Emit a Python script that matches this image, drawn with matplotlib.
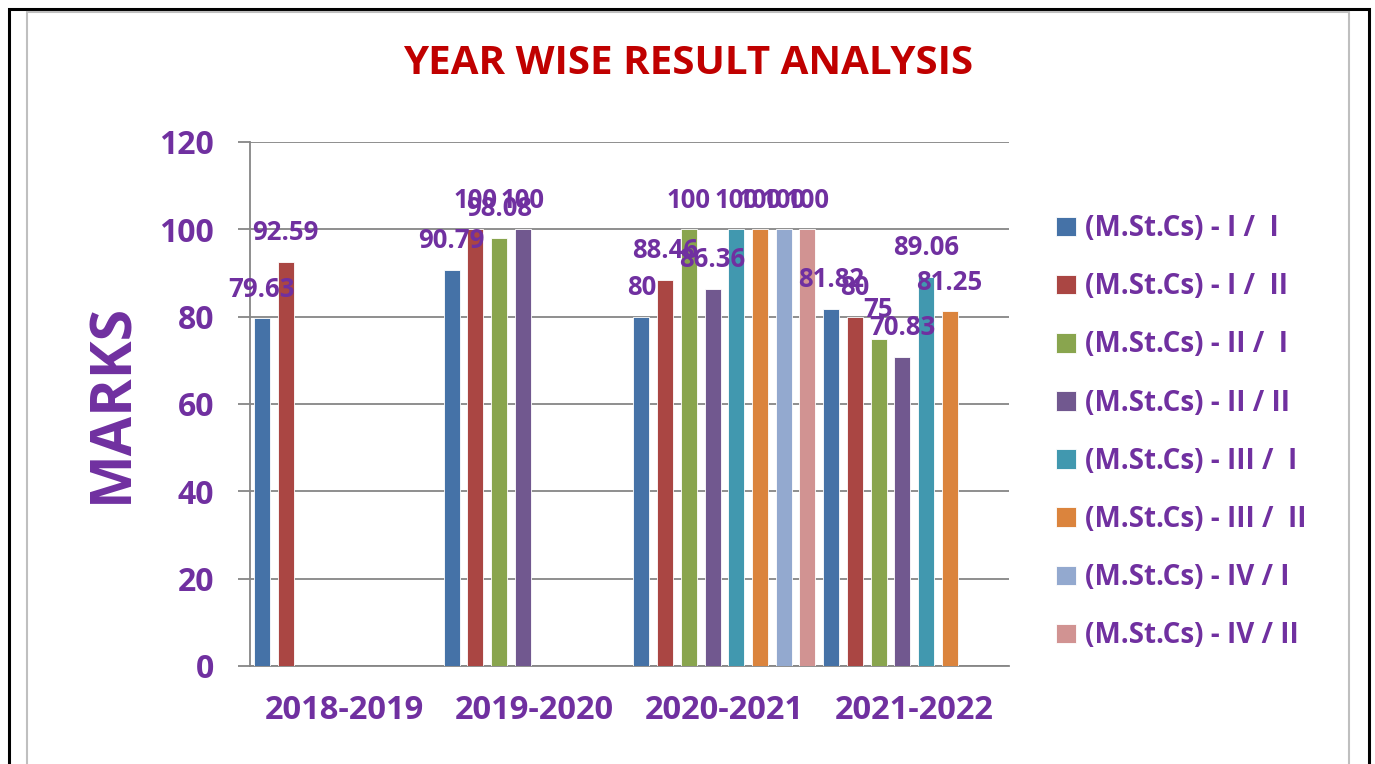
import numpy as np
import matplotlib
matplotlib.use('Agg')
import matplotlib.pyplot as plt
from matplotlib.patches import Rectangle

# data
years = ['2018-2019', '2019-2020', '2020-2021', '2021-2022']
series_names = ['(M.St.Cs) - I /  I', '(M.St.Cs) - I /  II', '(M.St.Cs) - II /  I',
                '(M.St.Cs) - II / II', '(M.St.Cs) - III /  I', '(M.St.Cs) - III /  II',
                '(M.St.Cs) - IV / I', '(M.St.Cs) - IV / II']
nan = np.nan
s1 = [79.63, 90.79, 80, 81.82]
s2 = [92.59, 100, 88.46, 80]
s3 = [nan, 98.08, 100, 75]
s4 = [nan, 100, 86.36, 70.83]
s5 = [nan, nan, 100, 89.06]
s6 = [nan, nan, 100, 81.25]
s7 = [nan, nan, 100, nan]
s8 = [nan, nan, 100, nan]
series = [s1, s2, s3, s4, s5, s6, s7, s8]
colors = ['#4572A7', '#AA4643', '#89A54E', '#71588F',
          '#4198AF', '#DB843D', '#93A9CF', '#D19392']

purple = '#7030A0'
plt.rcParams['font.family'] = ['Open Sans', 'DejaVu Sans']
plt.rcParams['font.weight'] = 'bold'

W, H = 1375, 764
fig = plt.figure(figsize=(W / 100, H / 100), dpi=100)

# outer frames (pixel coords -> figure fraction)
def px_rect(x0, y0, x1, y1, **kw):
    r = Rectangle((x0 / W, 1 - y1 / H), (x1 - x0) / W, (y1 - y0) / H,
                  transform=fig.transFigure, fill=False, clip_on=False, **kw)
    fig.patches.append(r)

px_rect(9, 9, 1369, 800, edgecolor='black', linewidth=2.2)
px_rect(27, 12, 1349, 800, edgecolor='#BFBFBF', linewidth=1.5)

ax = fig.add_axes([250 / W, 98 / H, 759 / W, 524 / H])

n = len(series)
slot = 1.0 / n
x = np.arange(len(years))
bw = 16 / 189.75
for i, (vals, c, name) in enumerate(zip(series, colors, series_names)):
    pos = x - 0.5 + (i + 0.5) * slot
    ax.bar(pos, vals, width=bw, color=c, edgecolor='white', linewidth=0.6,
           label=name, zorder=3)
    for px, v in zip(pos, vals):
        if np.isnan(v):
            continue
        ax.annotate('%g' % v, (px, v), xytext=(0, 21), textcoords='offset points',
                    ha='center', va='center', fontsize=18.5, color=purple,
                    fontweight='bold', zorder=5)

ax.set_xlim(-0.5, len(years) - 0.5)
ax.set_ylim(0, 120)
ax.set_yticks(range(0, 121, 20))
ax.set_xticks(x)
ax.set_xticklabels(years)
ax.grid(axis='y', color='#868686', linewidth=1.3, zorder=0)
ax.set_axisbelow(True)
for s in ['top', 'right']:
    ax.spines[s].set_visible(False)
for s in ['left', 'bottom']:
    ax.spines[s].set_color('#868686')
    ax.spines[s].set_linewidth(1.3)
ax.tick_params(axis='y', length=9, width=1.3, color='#868686', pad=17,
               labelsize=23, labelcolor=purple)
ax.tick_params(axis='x', length=0, pad=20, labelsize=23.5, labelcolor=purple)
for lab in ax.get_xticklabels() + ax.get_yticklabels():
    lab.set_fontweight('bold')

ax.set_ylabel('MARKS', fontsize=41, color=purple, fontweight='bold')
ax.yaxis.set_label_coords(141 / W, (764 - 403) / H, transform=fig.transFigure)

fig.text(688 / W, 1 - 63 / H, 'YEAR WISE RESULT ANALYSIS', ha='center', va='center',
         fontsize=29, color='#C00000', fontweight='bold')

leg = fig.legend(loc='upper left', bbox_to_anchor=(1045 / W, 1 - 203 / H),
                 frameon=False, fontsize=20, handlelength=0.72, handleheight=0.72,
                 handletextpad=0.33, labelspacing=1.05, borderaxespad=0)
for t in leg.get_texts():
    t.set_color(purple)
    t.set_fontweight('bold')

fig.savefig('out.png', dpi=100)
